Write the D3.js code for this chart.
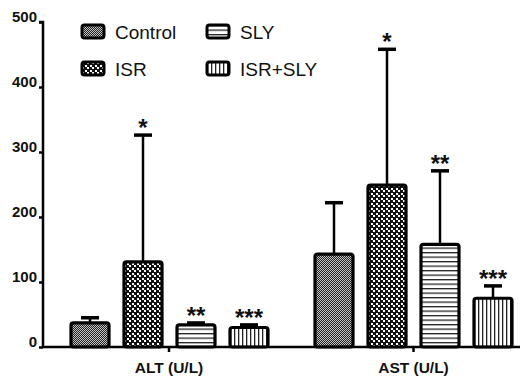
<!DOCTYPE html>
<html>
<head>
<meta charset="utf-8">
<script src="https://cdn.jsdelivr.net/npm/d3@7/dist/d3.min.js"></script>
<style>
  html, body { margin: 0; padding: 0; background: #fff; }
  svg { display: block; font-family: "Liberation Sans", Arial, sans-serif; }
</style>
</head>
<body>
<svg id="chart" width="520" height="377"></svg>
<script>
// Serum enzyme levels per treatment group
const groups = ["ALT (U/L)", "AST (U/L)"];
const series = ["Control", "ISR", "SLY", "ISR+SLY"];
const altMean = [37, 131, 34, 30];
const altUpper = [45, 326, 37, 34];
const astMean = [143, 249, 158, 75];
const astUpper = [222, 458, 271, 94];
const altStars = ["", "*", "**", "***"];
const astStars = ["", "*", "**", "***"];
const yTicks = [0, 100, 200, 300, 400, 500];

const data = [];
groups.forEach((g, gi) => {
  const means = gi === 0 ? altMean : astMean;
  const uppers = gi === 0 ? altUpper : astUpper;
  const stars = gi === 0 ? altStars : astStars;
  series.forEach((s, si) => {
    data.push({ group: g, series: s, mean: means[si], upper: uppers[si], star: stars[si] });
  });
});

const svg = d3.select("#chart");
const axisX = 43, baseY = 347, topY = 22;

const y = d3.scaleLinear().domain([0, 500]).range([baseY, topY]);
const xGroup = d3.scalePoint().domain(groups).range([169, 413.5]);
const xInner = d3.scaleBand().domain(series).range([-98.5, 98.5]).paddingInner(0.29).paddingOuter(0);

// Fill patterns
const defs = svg.append("defs");
const pControl = defs.append("pattern").attr("id", "p-Control")
  .attr("patternUnits", "userSpaceOnUse").attr("width", 2).attr("height", 2);
pControl.append("rect").attr("width", 2).attr("height", 2).attr("fill", "#c4c4c4");
pControl.append("rect").attr("width", 1).attr("height", 1).attr("fill", "#222");
pControl.append("rect").attr("x", 1).attr("y", 1).attr("width", 1).attr("height", 1).attr("fill", "#222");

const pIsr = defs.append("pattern").attr("id", "p-ISR")
  .attr("patternUnits", "userSpaceOnUse").attr("width", 5).attr("height", 5);
pIsr.append("rect").attr("width", 5).attr("height", 5).attr("fill", "#111");
pIsr.append("rect").attr("x", 0).attr("y", 0).attr("width", 2).attr("height", 2).attr("fill", "#fff");
pIsr.append("rect").attr("x", 3).attr("y", 3).attr("width", 2).attr("height", 2).attr("fill", "#fff");

const pSly = defs.append("pattern").attr("id", "p-SLY")
  .attr("patternUnits", "userSpaceOnUse").attr("width", 4).attr("height", 4.5);
pSly.append("rect").attr("width", 4).attr("height", 4.5).attr("fill", "#fff");
pSly.append("rect").attr("y", 0).attr("width", 4).attr("height", 1.3).attr("fill", "#222");

const pCombo = defs.append("pattern").attr("id", "p-ISR+SLY")
  .attr("patternUnits", "userSpaceOnUse").attr("width", 4).attr("height", 4);
pCombo.append("rect").attr("width", 4).attr("height", 4).attr("fill", "#fff");
pCombo.append("rect").attr("x", 0).attr("width", 1.3).attr("height", 4).attr("fill", "#222");

const fillOf = s => `url(#p-${s})`;

// Y axis
const yAxis = d3.axisLeft(y).tickValues(yTicks).tickSize(4).tickPadding(2);
const gy = svg.append("g").attr("transform", `translate(${axisX},0)`).call(yAxis);
gy.select(".domain").attr("stroke", "#000").attr("stroke-width", 2.5).attr("d", `M-4,${topY}H0V${baseY}`);
gy.selectAll(".tick line").attr("stroke", "#000").attr("stroke-width", 2.5);
gy.selectAll(".tick text").attr("font-size", 15).attr("font-weight", "bold").attr("fill", "#111")
  .attr("dy", "-0.02em");

// Bars
const bar = svg.append("g").selectAll("g").data(data).join("g")
  .attr("transform", d => `translate(${Math.round(xGroup(d.group) + xInner(d.series))},0)`);
const bw = Math.round(xInner.bandwidth());

// Error bars (upper only)
bar.append("line")
  .attr("x1", bw / 2).attr("x2", bw / 2)
  .attr("y1", d => y(d.mean)).attr("y2", d => y(d.upper))
  .attr("stroke", "#000").attr("stroke-width", 2.5);
bar.append("line")
  .attr("x1", bw / 2 - 9).attr("x2", bw / 2 + 9)
  .attr("y1", d => y(d.upper)).attr("y2", d => y(d.upper))
  .attr("stroke", "#000").attr("stroke-width", 3.5);

bar.append("rect")
  .attr("x", 0).attr("width", bw)
  .attr("y", d => y(d.mean)).attr("height", d => baseY - y(d.mean))
  .attr("rx", 2.5)
  .attr("fill", d => fillOf(d.series))
  .attr("stroke", "#000").attr("stroke-width", 3.2);

// Significance marks
bar.append("text")
  .attr("x", bw / 2).attr("y", d => y(d.upper) + 1)
  .attr("text-anchor", "middle")
  .attr("font-size", 24).attr("font-weight", "bold").attr("fill", "#111")
  .text(d => d.star);

// X axis
const gx = svg.append("g");
gx.append("line").attr("x1", axisX - 1).attr("x2", 520).attr("y1", baseY).attr("y2", baseY)
  .attr("stroke", "#000").attr("stroke-width", 2.5);
gx.selectAll(".gtick").data(groups).join("line")
  .attr("x1", d => xGroup(d)).attr("x2", d => xGroup(d))
  .attr("y1", baseY).attr("y2", baseY + 5)
  .attr("stroke", "#000").attr("stroke-width", 2.5);
gx.selectAll(".glabel").data(groups).join("text")
  .attr("x", d => xGroup(d)).attr("y", 373)
  .attr("text-anchor", "middle").attr("font-size", 15.5).attr("font-weight", "bold").attr("fill", "#111")
  .text(d => d);

// Legend
const legendPos = [[82, 25], [82, 62], [207, 25], [207, 62]];
const leg = svg.append("g").selectAll("g").data(series).join("g")
  .attr("transform", (d, i) => `translate(${legendPos[i][0]},${legendPos[i][1]})`);
leg.append("rect").attr("width", 22).attr("height", 13).attr("rx", 2.5)
  .attr("fill", d => fillOf(d)).attr("stroke", "#000").attr("stroke-width", 3);
leg.append("text").attr("x", 33).attr("y", 14)
  .attr("font-size", 19).attr("fill", "#111").text(d => d);
</script>
</body>
</html>
